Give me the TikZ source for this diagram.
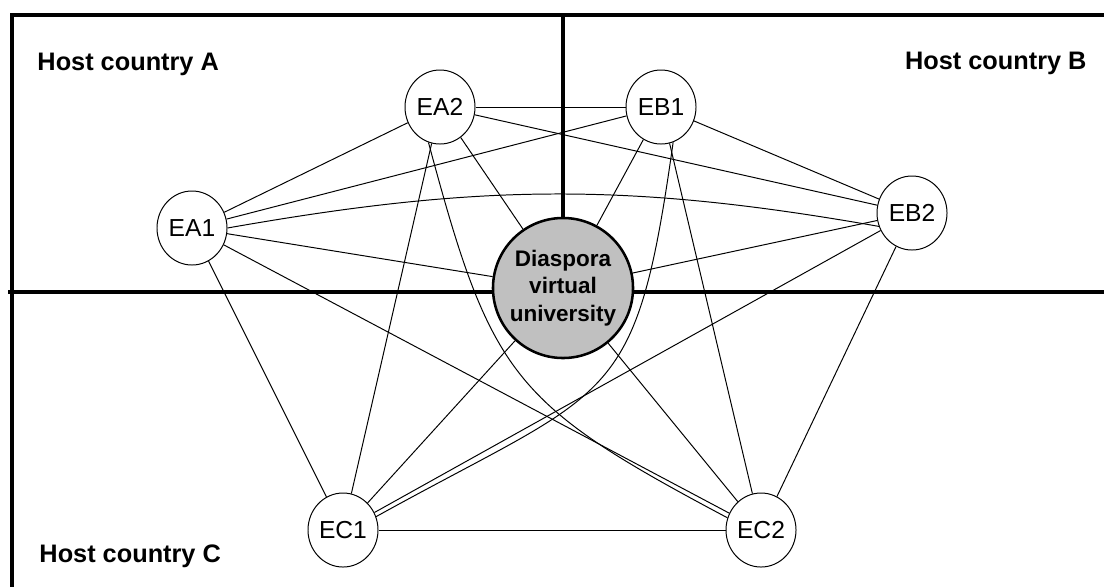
\documentclass[tikz,border=0pt]{standalone}
\usepackage{fontspec}
\setmainfont{Liberation Sans}
\usetikzlibrary{shapes.geometric}
\definecolor{hubgray}{RGB}{192,192,192}

\begin{document}
\begin{tikzpicture}[x=0.025cm,y=-0.025cm,line width=0.7pt]
\tikzset{site/.style={ellipse,draw=black,fill=white,line width=0.7pt,minimum width=1.75cm,minimum height=1.85cm,inner sep=0pt,font=\fontsize{17.5}{20}\selectfont},
  hub/.style={circle,draw=black,fill=hubgray,line width=1.8pt,minimum size=3.5cm,inner sep=0pt,align=center,font=\bfseries\fontsize{16}{19.6}\selectfont},
  region/.style={inner sep=0pt,font=\bfseries\fontsize{18}{21}\selectfont},
  border/.style={line width=2.2pt},
  link/.style={line width=0.7pt}}
\useasboundingbox (0,0) rectangle (1104,587);
% ---------- frame and country borders ----------
\coordinate (topmid) at (563,15);
\draw[border] (1104,15) -- (12,15) -- (12,587);
\draw[border] (8,292) -- (1104,292);
% ---------- country labels ----------
\node[region,anchor=base west] (hostA) at (37,70) {Host country A};
\node[region,anchor=base east] (hostB) at (1087,69) {Host country B};
\node[region,anchor=base west] (hostC) at (39,562) {Host country C};
% ---------- university and sites ----------
\node[hub] (dvu) at (563,288) {Diaspora\\virtual\\university};
\node[site] (ea1) at (192,228) {EA1};
\node[site] (ea2) at (440,107) {EA2};
\node[site] (eb1) at (661,107) {EB1};
\node[site] (eb2) at (912,213) {EB2};
\node[site] (ec1) at (343,530) {EC1};
\node[site] (ec2) at (761,530) {EC2};
\draw[border] (topmid) -- (dvu.north);
% ---------- links (every pair) ----------
\draw[link] (ea1) -- (ea2);  \draw[link] (ea1) -- (eb1);
\draw[link] (ea1.east) to[out=10,in=170] (eb2.202); \draw[link] (ea1) -- (dvu);
\draw[link] (ea1) -- (ec1);  \draw[link] (ea1) -- (ec2);
\draw[link] (ea2) -- (eb1);  \draw[link] (ea2) -- (eb2);
\draw[link] (ea2) -- (dvu);  \draw[link] (ea2) -- (ec1);
\draw[link] (ea2.252) to[out=-75,in=152,looseness=1.3] (ec2.160);
\draw[link] (eb1) -- (eb2);  \draw[link] (eb1) -- (dvu);
\draw[link] (eb1.289) to[out=-98,in=29,looseness=1.45] (ec1.22); \draw[link] (eb1) -- (ec2);
\draw[link] (eb2) -- (dvu);  \draw[link] (eb2) -- (ec1);
\draw[link] (eb2) -- (ec2);
\draw[link] (dvu) -- (ec1);  \draw[link] (dvu) -- (ec2);
\draw[link] (ec1) -- (ec2);
\end{tikzpicture}
\end{document}
